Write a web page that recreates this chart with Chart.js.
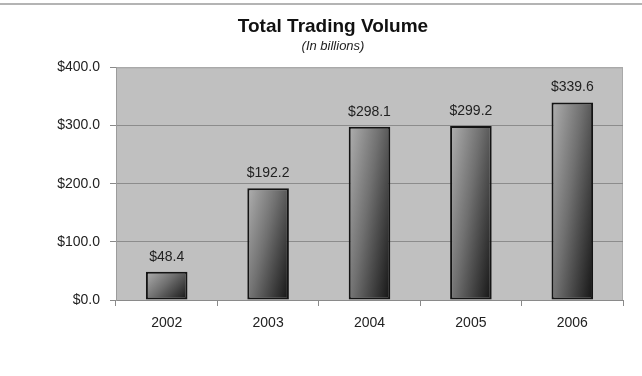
<!DOCTYPE html>
<html>
<head>
<meta charset="utf-8">
<title>Total Trading Volume</title>
<script src="https://cdn.jsdelivr.net/npm/chart.js@4/dist/chart.umd.min.js"></script>
<style>
  html, body { margin: 0; padding: 0; background: #ffffff; }
  #wrap { position: relative; width: 642px; height: 376px; }
  #rule { position: absolute; left: 0; top: 3px; width: 642px; height: 2px; background: #b4b4b4; }
  #chart { position: absolute; left: 0; top: 0; }
</style>
</head>
<body>
<div id="wrap">
  <canvas id="chart" width="642" height="376"></canvas>
  <div id="rule"></div>
</div>
<script>
// Annual totals, in billions of dollars
const years = ['2002', '2003', '2004', '2005', '2006'];
const volumes = [48.4, 192.2, 298.1, 299.2, 339.6];
const yTicks = [0, 100, 200, 300, 400];

const FONT = '"Liberation Sans", Arial, Helvetica, sans-serif';
const money = v => '$' + Number(v).toFixed(1);

// Grey plot background with a light frame on the top and right
const plotBackground = {
  id: 'plotBackground',
  beforeDraw(chart) {
    const { ctx, chartArea: a } = chart;
    ctx.save();
    ctx.fillStyle = '#c0c0c0';
    ctx.fillRect(a.left, a.top, a.right - a.left, a.bottom - a.top);
    ctx.strokeStyle = '#a9a9a9';
    ctx.lineWidth = 1;
    ctx.beginPath();
    ctx.moveTo(a.left, a.top + 0.5);
    ctx.lineTo(a.right - 0.5, a.top + 0.5);
    ctx.lineTo(a.right - 0.5, a.bottom);
    ctx.stroke();
    ctx.restore();
  }
};

// Each bar gets a diagonal light-to-dark shading across its own box
const barShading = {
  id: 'barShading',
  beforeDatasetsDraw(chart) {
    const { ctx } = chart;
    const meta = chart.getDatasetMeta(0);
    meta.data.forEach(el => {
      const w = el.width;
      const left = el.x - w / 2;
      const top = Math.min(el.y, el.base);
      const h = Math.max(1, Math.abs(el.base - el.y));
      const a = 0.6, b = 0.4;
      const gx = a / w, gy = b / h;
      const n = gx * gx + gy * gy;
      const g = ctx.createLinearGradient(left, top, left + gx / n, top + gy / n);
      g.addColorStop(0, '#b0b0b0');
      g.addColorStop(0.45, '#707070');
      g.addColorStop(1, '#141414');
      el.options = Object.assign({}, el.options, { backgroundColor: g });
    });
  }
};

// Value labels above the bars
const valueLabels = {
  id: 'valueLabels',
  afterDatasetsDraw(chart) {
    const { ctx } = chart;
    const meta = chart.getDatasetMeta(0);
    ctx.save();
    ctx.font = '14px ' + FONT;
    ctx.fillStyle = '#222222';
    ctx.textAlign = 'center';
    ctx.textBaseline = 'middle';
    meta.data.forEach((el, i) => {
      ctx.fillText(money(volumes[i]), el.x, el.y - 15);
    });
    ctx.restore();
  }
};

new Chart(document.getElementById('chart'), {
  type: 'bar',
  data: {
    labels: years,
    datasets: [{
      data: volumes,
      backgroundColor: () => '#808080',
      borderColor: '#141414',
      borderWidth: 2,
      borderSkipped: false,
      categoryPercentage: 1,
      barPercentage: 0.41
    }]
  },
  options: {
    responsive: false,
    animation: false,
    events: [],
    layout: { padding: { left: 43, right: 19, top: 15, bottom: 0 } },
    plugins: {
      legend: { display: false },
      tooltip: { enabled: false },
      title: {
        display: true,
        text: 'Total Trading Volume',
        color: '#111111',
        font: { family: FONT, size: 19, weight: 'bold', lineHeight: 1.2 },
        padding: { top: 0, bottom: 1 }
      },
      subtitle: {
        display: true,
        text: '(In billions)',
        color: '#222222',
        font: { family: FONT, size: 13, style: 'italic', lineHeight: 1.2 },
        padding: { top: 0, bottom: 13 }
      }
    },
    scales: {
      x: {
        offset: true,
        grid: {
          offset: true,
          drawOnChartArea: false,
          drawTicks: true,
          tickLength: 6,
          tickColor: '#8a8a8a'
        },
        border: { display: true, color: '#8a8a8a', width: 1 },
        ticks: {
          color: '#222222',
          padding: 9,
          font: { family: FONT, size: 14 }
        },
        afterFit(scale) { scale.height = 76; }
      },
      y: {
        min: 0,
        max: 400,
        afterBuildTicks(scale) { scale.ticks = yTicks.map(v => ({ value: v })); },
        grid: {
          color: ctx => (ctx.tick && ctx.tick.value === 400) ? '#a9a9a9' : '#8c8c8c',
          tickColor: '#8a8a8a',
          tickLength: 6,
          lineWidth: 1
        },
        border: { display: true, color: '#9c9c9c', width: 1 },
        ticks: {
          color: '#222222',
          padding: 10,
          font: { family: FONT, size: 14 },
          callback: v => money(v)
        },
        afterFit(scale) { scale.width = 73; }
      }
    }
  },
  plugins: [plotBackground, barShading, valueLabels]
});
</script>
</body>
</html>
